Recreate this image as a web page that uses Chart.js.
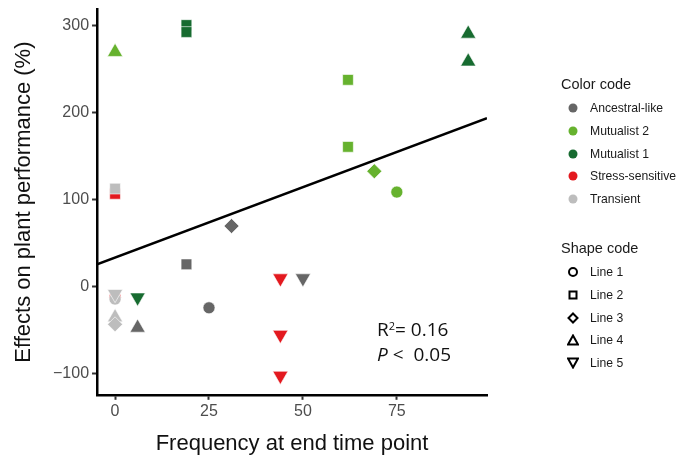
<!DOCTYPE html>
<html>
<head>
<meta charset="utf-8">
<script src="https://cdn.jsdelivr.net/npm/chart.js@4"></script>
<style>
  body { margin: 0; background: #fff; }
  #wrap { position: relative; width: 676px; height: 456px; }
  canvas { position: absolute; left: 0; top: 0; }
  .legend { position: absolute; font-family: "Liberation Sans", Arial, sans-serif; color: #1a1a1a; white-space: nowrap; }
  .legend h4 { margin: 0 0 5px 0; font-weight: normal; font-size: 14.5px; }
  .legend .row { display: flex; align-items: center; height: 22.7px; font-size: 12.2px; }
  .legend .row svg { width: 12px; height: 12px; margin: 0 11px 0 6px; flex: none; }
  .stats { position: absolute; left: 377px; top: 317px; font-family: "Open Sans", sans-serif; font-size: 19px; line-height: 25px; color: #111; }
</style>
</head>
<body>
<div id="wrap">
  <canvas id="chart" width="676" height="456"></canvas>
  <div class="legend" id="colorLegend" style="left:561px; top:76px;"><h4>Color code</h4></div>
  <div class="legend" id="shapeLegend" style="left:561px; top:240px;"><h4>Shape code</h4></div>
  <div class="stats">R<sup style="font-size:11px; vertical-align: 6px; line-height:0">2</sup>= 0.16<br><i>P</i> &lt;&nbsp; 0.05</div>
</div>
<script>
// Categories
const groups = ["Ancestral-like", "Mutualist 2", "Mutualist 1", "Stress-sensitive", "Transient"];
const groupColors = ["#666666", "#66b22e", "#176b30", "#e3191f", "#bdbdbd"];
const lines = ["Line 1", "Line 2", "Line 3", "Line 4", "Line 5"];

// Points
const pointX     = [0,   19,  19,  0,   0,   19, 31, 25,  44, 44,  44,   50, 0,   0,   0,   6,   0,   0,   6,   62,  62,  69,  75,  94,  94];
const pointY     = [270, 301, 293, 107, 113, 26, 70, -24, 10, -55, -102, 10, -12, -14, -8,  -12, -35, -43, -47, 238, 161, 133, 109, 291, 259];
const pointGroup = [1,   2,   2,   3,   4,   0,  0,  0,   3,  3,   3,    0,  3,   4,   4,   2,   4,   4,   0,   1,   1,   1,   1,   2,   2];
const pointLine  = [3,   1,   1,   1,   1,   1,  2,  0,   4,  4,   4,    4,  0,   0,   4,   4,   3,   2,   3,   1,   1,   2,   0,   3,   3];

// Regression line end points
const fitX = [-4.8, 99];
const fitY = [26, 194];

// Tick labels
const xTicks = [0, 25, 50, 75];
const yTicks = [-100, 0, 100, 200, 300];

const shapeStyle = [
  { style: "circle", rot: 0, r: 6 },
  { style: "rect", rot: 0, r: 7.6 },
  { style: "rectRot", rot: 0, r: 7.5 },
  { style: "triangle", rot: 0, r: 8.8 },
  { style: "triangle", rot: 180, r: 8.8 }
];

// draw order: transient on top of stress-sensitive
const drawOrder = [3, 2, 2, 4, 1];

const datasets = [];
groups.forEach((g, gi) => {
  const idx = pointX.map((_, i) => i).filter(i => pointGroup[i] === gi);
  datasets.push({
    type: "scatter",
    label: g,
    order: drawOrder[gi],
    data: idx.map(i => ({ x: pointX[i], y: pointY[i] })),
    pointStyle: idx.map(i => shapeStyle[pointLine[i]].style),
    rotation: idx.map(i => shapeStyle[pointLine[i]].rot),
    radius: idx.map(i => shapeStyle[pointLine[i]].r),
    hoverRadius: idx.map(i => shapeStyle[pointLine[i]].r),
    backgroundColor: groupColors[gi],
    borderColor: "#ffffff",
    borderWidth: 0.6
  });
});
datasets.push({
  type: "line",
  label: "fit",
  order: 10,
  data: fitX.map((x, i) => ({ x: x, y: fitY[i] })),
  borderColor: "#000",
  borderWidth: 2.6,
  pointRadius: 0,
  fill: false
});

const tickFont = { family: "Liberation Sans", size: 16 };
const titleFont = { family: "Liberation Sans", size: 22, lineHeight: 1 };
const minus = v => String(v).replace("-", "\u2212");

new Chart(document.getElementById("chart"), {
  type: "scatter",
  data: { datasets },
  options: {
    responsive: false,
    animation: false,
    layout: { padding: { left: 13, right: 189, top: 8, bottom: 1 } },
    plugins: { legend: { display: false }, tooltip: { enabled: false } },
    scales: {
      x: {
        type: "linear", min: -4.8, max: 99,
        afterBuildTicks: a => { a.ticks = xTicks.map(v => ({ value: v })); },
        ticks: { font: tickFont, color: "#4d4d4d", padding: 2, callback: minus },
        grid: { drawOnChartArea: false, drawTicks: true, tickLength: 5, tickWidth: 2, tickColor: "#333" },
        border: { display: true, color: "#000", width: 2.5 },
        title: { display: true, text: "Frequency at end time point", font: titleFont, color: "#111", padding: { top: 10, bottom: 0 } }
      },
      y: {
        type: "linear", min: -124, max: 319,
        afterBuildTicks: a => { a.ticks = yTicks.map(v => ({ value: v })); },
        afterFit: a => { a.paddingTop = 0; a.paddingBottom = 0; },
        ticks: { font: tickFont, color: "#4d4d4d", padding: 3, callback: minus },
        grid: { drawOnChartArea: false, drawTicks: true, tickLength: 5, tickWidth: 2, tickColor: "#333" },
        border: { display: true, color: "#000", width: 2.5 },
        title: { display: true, text: "Effects on plant performance (%)", font: titleFont, color: "#111", padding: { top: 0, bottom: 15 } }
      }
    }
  }
});

// HTML legends
const shapeSvg = [
  '<circle cx="6" cy="6" r="4" fill="none" stroke="#000" stroke-width="2"/>',
  '<rect x="2.5" y="2.5" width="7" height="7" fill="none" stroke="#000" stroke-width="2"/>',
  '<path d="M6 1.5 L10.5 6 L6 10.5 L1.5 6 Z" fill="none" stroke="#000" stroke-width="2"/>',
  '<path d="M6 1.5 L11 10.5 L1 10.5 Z" fill="none" stroke="#000" stroke-width="2"/>',
  '<path d="M6 10.5 L11 1.5 L1 1.5 Z" fill="none" stroke="#000" stroke-width="2"/>'
];
const colorLegend = document.getElementById("colorLegend");
groups.forEach((g, gi) => {
  colorLegend.insertAdjacentHTML("beforeend",
    '<div class="row"><svg viewBox="0 0 12 12"><circle cx="6" cy="6" r="4.5" fill="' + groupColors[gi] + '"/></svg>' + g + '</div>');
});
const shapeLegend = document.getElementById("shapeLegend");
lines.forEach((l, li) => {
  shapeLegend.insertAdjacentHTML("beforeend",
    '<div class="row"><svg viewBox="0 0 12 12">' + shapeSvg[li] + '</svg>' + l + '</div>');
});
</script>
</body>
</html>
